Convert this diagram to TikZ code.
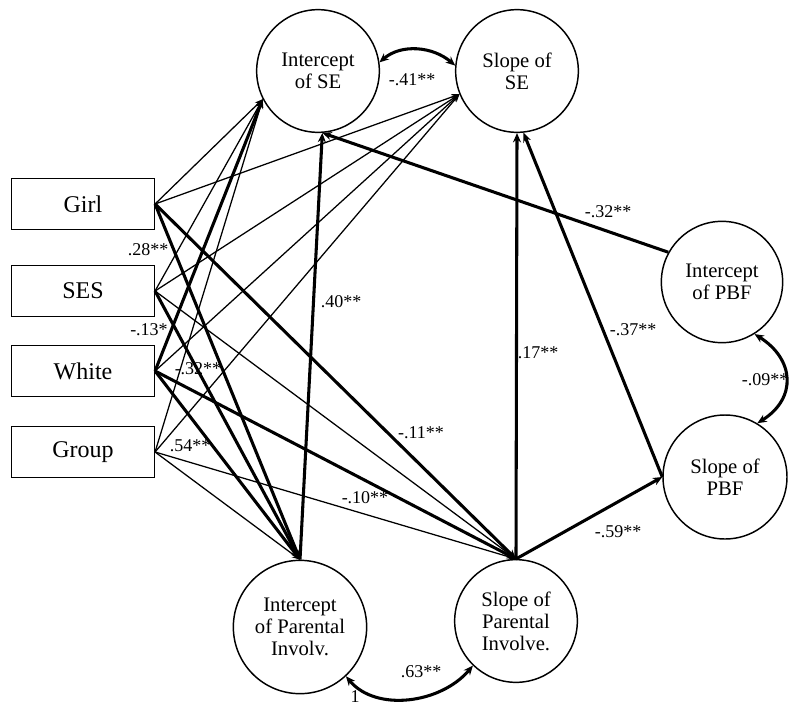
\documentclass[tikz,border=0pt]{standalone}
\usepackage{fontspec}
\setmainfont{Liberation Serif}
\usetikzlibrary{arrows.meta}

\begin{document}
\begin{tikzpicture}[x=0.75pt,y=0.75pt,yscale=-1,xscale=1,
    latent/.style={draw,circle,line width=1.1pt,inner sep=0pt,align=center,font=\fontsize{15.5}{16.5}\selectfont},
    observed/.style={draw,rectangle,line width=1.1pt,minimum width=107pt,minimum height=38pt,font=\fontsize{18}{20}\selectfont},
    coef/.style={inner sep=0.75pt,font=\fontsize{13.5}{15}\selectfont},
    thinpath/.style={line width=0.95pt,-{Stealth[length=6pt,width=4.5pt]}},
    thickpath/.style={line width=2.3pt,-{Stealth[length=7pt,width=6pt]}},
    covar/.style={line width=2.3pt,{Stealth[length=7pt,width=6pt]}-{Stealth[length=7pt,width=6pt]}}]
    \path[use as bounding box] (0,0) rectangle (800,711);
    %Shape: Circle
    \node[latent,minimum size=92pt] (intSE) at (318,71) {Intercept\\of SE};
    \node[latent,minimum size=92pt] (slopeSE) at (517,71) {Slope of\\SE};
    \node[latent,minimum size=91pt] (intPBF) at (722,282) {Intercept\\of PBF};
    \node[latent,minimum size=93pt] (slopePBF) at (725,477) {Slope of\\PBF};
    \node[latent,minimum size=100pt] (intPI) at (300,627) {Intercept\\of Parental\\Involv.};
    \node[latent,minimum size=92pt] (slopePI) at (516,621) {Slope of\\Parental\\Involve.};
    %Shape: Rectangle
    \node[observed] (girl) at (83,204) {Girl};
    \node[observed] (ses) at (83,291) {SES};
    \node[observed] (white) at (83,371) {White};
    \node[observed] (group) at (83,452) {Group};
    %Straight Lines: Girl
    \draw[thinpath] (girl.east) -- (intSE.207);
    \draw[thinpath] (girl.east) -- (slopeSE.202);
    \draw[thickpath] (girl.east) -- (intPI.north);
    \draw[thickpath] (girl.east) -- (slopePI.north);
    %Straight Lines: SES
    \draw[thinpath] (ses.east) -- (intSE.207);
    \draw[thinpath] (ses.east) -- (slopeSE.202);
    \draw[thickpath] (ses.east) -- (intPI.north);
    \draw[thinpath] (ses.east) -- (slopePI.north);
    %Straight Lines: White
    \draw[thickpath] (white.east) -- (intSE.207);
    \draw[thinpath] (white.east) -- (slopeSE.202);
    \draw[thickpath] (white.east) -- (intPI.north);
    \draw[thickpath] (white.east) -- (slopePI.north);
    %Straight Lines: Group
    \draw[thinpath] (group.east) -- (intSE.207);
    \draw[thinpath] (group.east) -- (slopeSE.202);
    \draw[thinpath] (group.east) -- (intPI.north);
    \draw[thinpath] (group.east) -- (slopePI.north);
    %Straight Lines: growth factors
    \draw[thickpath] (intPI.north) -- (intSE.274);
    \draw[thickpath] (slopePI.north) -- (slopeSE.south);
    \draw[thickpath] (slopePI.north) -- (slopePBF.west);
    \draw[thickpath] (intPBF.151) -- (intSE.274);
    \draw[thickpath] (slopePBF.west) -- (slopeSE.276);
    %Curve Lines
    \draw[covar] (intSE.8) .. controls +(22,-19) and +(-22,-19) .. (slopeSE.175);
    \draw[covar] (intPBF.-58) .. controls +(40,25) and +(40,-25) .. (slopePBF.59);
    \draw[covar] (intPI.-47) .. controls +(30,36) and +(-32,38) .. (slopePI.-134);
    % Text Node
    \node[coef] (cGirl) at (148,250) {.28**};
    \node[coef] (cSes) at (149,330) {-.13*};
    \node[coef] (cWhite) at (198,369) {-.32**};
    \node[coef] (cGroup) at (190,446) {.54**};
    \node[coef] (cIntSE) at (341,302) {.40**};
    \node[coef] (cSlopeSE) at (538,353) {.17**};
    \node[coef] (cGirlSlope) at (421,433) {-.11**};
    \node[coef] (cWhiteSlope) at (365,498) {-.10**};
    \node[coef] (cSE) at (412,80) {-.41**};
    \node[coef] (cIntPBF) at (608,212) {-.32**};
    \node[coef] (cSlopePBF) at (633,330) {-.37**};
    \node[coef] (cPBF) at (765,380) {-.09**};
    \node[coef] (cPIPBF) at (618,532) {-.59**};
    \node[coef] (cPI) at (421,672) {.63**};
    \node[coef] (cOne) at (355,697) {1};
\end{tikzpicture}
\end{document}
